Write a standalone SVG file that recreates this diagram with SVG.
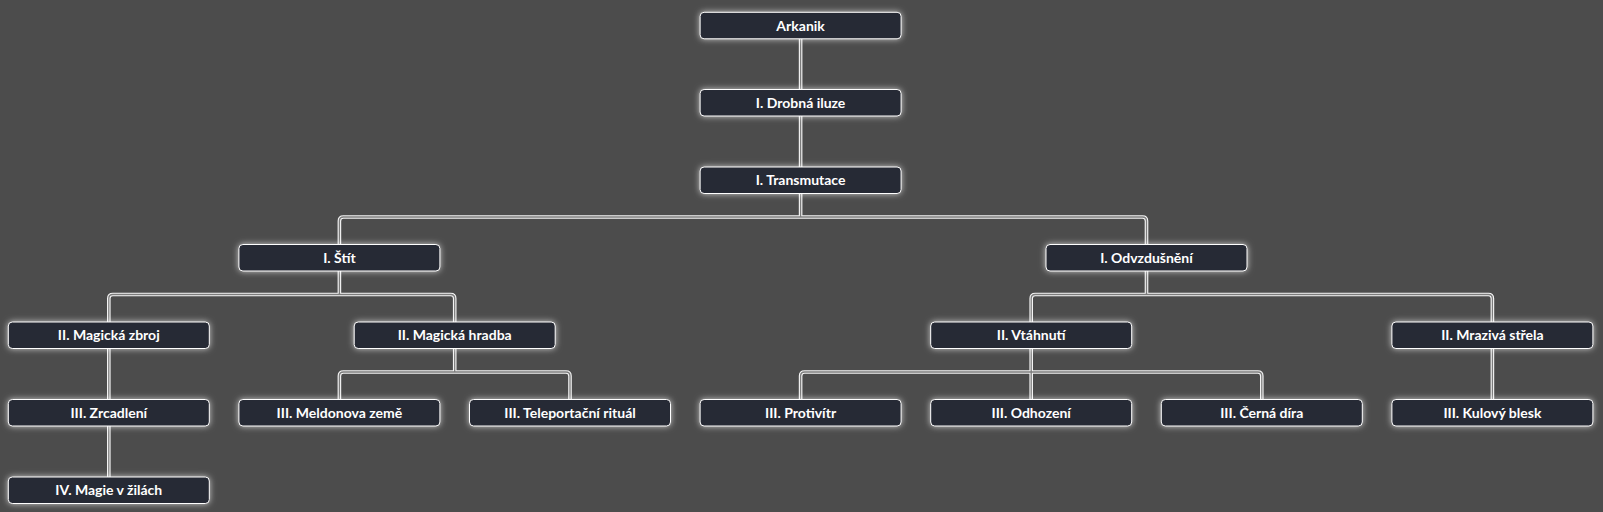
<svg xmlns="http://www.w3.org/2000/svg" xmlns:xlink="http://www.w3.org/1999/xlink" width="1603" height="512" viewBox="0 0 1603 512">
<style>
.bg{fill:#4c4c4c}
.node rect{fill:#282a35;stroke:#ffffff;stroke-width:1;filter:url(#glow)}
.node text{fill:#ffffff;font-family:"Lato","Noto Sans","Liberation Sans",sans-serif;font-weight:bold;font-size:14px;text-anchor:middle}
.outer{fill:none;stroke:#f4f4f4;stroke-width:3.6}
.inner{fill:none;stroke:#7c7c7c;stroke-width:1.3}
</style>
<defs>
<filter id="glow" x="-20%" y="-80%" width="140%" height="260%">
<feDropShadow dx="0" dy="0" stdDeviation="3" flood-color="#ffffff" flood-opacity="0.7"/>
</filter>
<g id="edges">
<path d="M800.6,38.8 V89.5"/>
<path d="M800.6,116 V167"/>
<path d="M800.6,193.5 V217"/>
<path d="M339.4,244.5 V221 Q339.4,217 343.4,217 H1142.5 Q1146.5,217 1146.5,221 V244.5"/>
<path d="M339.4,271 V294.5"/>
<path d="M108.8,322 V298.5 Q108.8,294.5 112.8,294.5 H450.7 Q454.7,294.5 454.7,298.5 V322"/>
<path d="M1146.5,271 V294.5"/>
<path d="M1031.2,322 V298.5 Q1031.2,294.5 1035.2,294.5 H1488.4 Q1492.4,294.5 1492.4,298.5 V322"/>
<path d="M108.8,348.5 V399.5"/>
<path d="M454.7,348.5 V372"/>
<path d="M339.4,399.5 V376 Q339.4,372 343.4,372 H566 Q570,372 570,376 V399.5"/>
<path d="M1031.2,348.5 V399.5"/>
<path d="M800.6,399.5 V376 Q800.6,372 804.6,372 H1257.8 Q1261.8,372 1261.8,376 V399.5"/>
<path d="M1492.4,348.5 V399.5"/>
<path d="M108.8,426 V477"/>
</g>
</defs>
<rect class="bg" x="0" y="0" width="1603" height="512"/>
<g id="connectors">
<use xlink:href="#edges" href="#edges" class="outer"/>
<use xlink:href="#edges" href="#edges" class="inner"/>
</g>
<g id="n-arkanik" class="node"><rect x="700.1" y="12.3" width="201" height="26.5" rx="4"/><text x="800.6" y="30.5">Arkanik</text></g>
<g id="n-drobna-iluze" class="node"><rect x="700.1" y="89.5" width="201" height="26.5" rx="4"/><text x="800.6" y="107.7">I. Drobná iluze</text></g>
<g id="n-transmutace" class="node"><rect x="700.1" y="167" width="201" height="26.5" rx="4"/><text x="800.6" y="185.2">I. Transmutace</text></g>
<g id="n-stit" class="node"><rect x="238.9" y="244.5" width="201" height="26.5" rx="4"/><text x="339.4" y="262.7">I. Štít</text></g>
<g id="n-odvzdusneni" class="node"><rect x="1046" y="244.5" width="201" height="26.5" rx="4"/><text x="1146.5" y="262.7">I. Odvzdušnění</text></g>
<g id="n-magicka-zbroj" class="node"><rect x="8.3" y="322" width="201" height="26.5" rx="4"/><text x="108.8" y="340.2">II. Magická zbroj</text></g>
<g id="n-magicka-hradba" class="node"><rect x="354.2" y="322" width="201" height="26.5" rx="4"/><text x="454.7" y="340.2">II. Magická hradba</text></g>
<g id="n-vtahnuti" class="node"><rect x="930.7" y="322" width="201" height="26.5" rx="4"/><text x="1031.2" y="340.2">II. Vtáhnutí</text></g>
<g id="n-mraziva-strela" class="node"><rect x="1391.9" y="322" width="201" height="26.5" rx="4"/><text x="1492.4" y="340.2">II. Mrazivá střela</text></g>
<g id="n-zrcadleni" class="node"><rect x="8.3" y="399.5" width="201" height="26.5" rx="4"/><text x="108.8" y="417.7">III. Zrcadlení</text></g>
<g id="n-meldonova-zeme" class="node"><rect x="238.9" y="399.5" width="201" height="26.5" rx="4"/><text x="339.4" y="417.7">III. Meldonova země</text></g>
<g id="n-teleportacni-ritual" class="node"><rect x="469.5" y="399.5" width="201" height="26.5" rx="4"/><text x="570" y="417.7">III. Teleportační rituál</text></g>
<g id="n-protivitr" class="node"><rect x="700.1" y="399.5" width="201" height="26.5" rx="4"/><text x="800.6" y="417.7">III. Protivítr</text></g>
<g id="n-odhozeni" class="node"><rect x="930.7" y="399.5" width="201" height="26.5" rx="4"/><text x="1031.2" y="417.7">III. Odhození</text></g>
<g id="n-cerna-dira" class="node"><rect x="1161.3" y="399.5" width="201" height="26.5" rx="4"/><text x="1261.8" y="417.7">III. Černá díra</text></g>
<g id="n-kulovy-blesk" class="node"><rect x="1391.9" y="399.5" width="201" height="26.5" rx="4"/><text x="1492.4" y="417.7">III. Kulový blesk</text></g>
<g id="n-magie-v-zilach" class="node"><rect x="8.3" y="477" width="201" height="26.5" rx="4"/><text x="108.8" y="495.2">IV. Magie v žilách</text></g>
</svg>
